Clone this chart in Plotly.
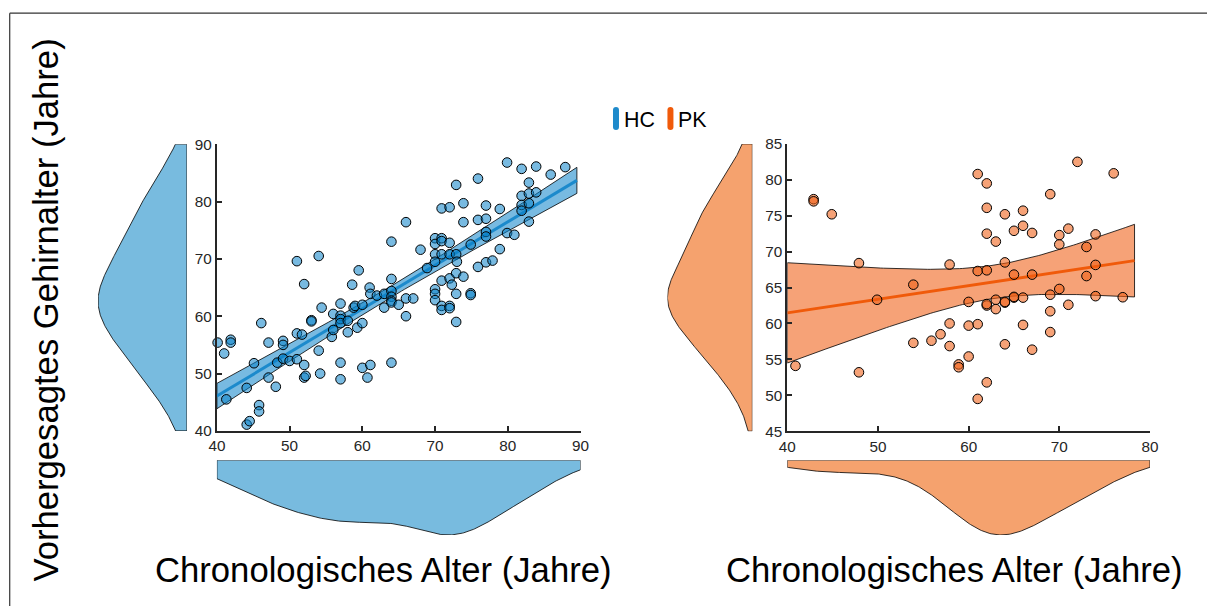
import numpy as np
import plotly.graph_objects as go

# The page is captured as a slightly larger area (body margin included) and scaled
# back to 1215x614; these factors map target-image pixels to figure pixels.
W, H = 1215, 614
OFF = 8
SX, SY = 1231 / 1215, 630 / 614
FS = (SX + SY) / 2

GROUPS = ["HC", "PK"]
X_TITLE = "Chronologisches Alter (Jahre)"
Y_TITLE = "Vorhergesagtes Gehirnalter (Jahre)"

HC_AGE = [51.0, 54.0, 52.0, 64.0, 64.0, 58.6, 59.5, 61.0, 79.9, 81.9, 83.9, 87.9, 85.9, 82.9, 72.9, 75.9,
          81.9, 82.9, 83.9, 81.9, 82.9, 81.9, 82.9, 70.9, 72.0, 73.9, 77.0, 78.9, 73.9, 75.9, 77.0, 77.0,
          77.0, 79.9, 80.9, 78.9, 74.9, 66.0, 68.0, 70.0, 70.0, 70.9, 70.9, 72.0, 70.0, 70.9, 72.0, 72.9,
          70.0, 73.0, 68.9, 75.9, 77.0, 77.9, 70.9, 72.0, 72.9, 73.9, 66.0, 67.0, 66.0, 70.0, 70.0, 70.0,
          70.9, 70.9, 72.0, 72.0, 72.9, 72.3, 72.9, 74.9, 74.9, 64.0, 40.1, 41.0, 41.9, 41.9, 41.3, 44.1,
          44.1, 44.5, 45.8, 45.8, 46.1, 47.1, 47.1, 45.1, 48.1, 48.3, 49.1, 49.1, 49.1, 50.0, 51.0, 51.0,
          51.7, 52.0, 52.0, 52.2, 53.0, 53.0, 54.0, 54.2, 54.4, 55.8, 56.0, 56.0, 57.0, 57.0, 57.0, 57.0,
          57.0, 57.0, 58.0, 58.0, 58.8, 59.0, 59.3, 60.0, 60.0, 60.0, 60.7, 61.1, 61.1, 62.0, 63.0, 63.0,
          64.0, 64.0, 64.0, 64.0, 65.0]
HC_PRED = [69.6, 70.5, 65.6, 73.0, 66.5, 65.5, 68.0, 65.0, 86.8, 85.7, 86.1, 86.0, 84.7, 83.3, 82.9, 84.0,
           81.0, 81.4, 81.6, 79.4, 79.7, 78.4, 76.5, 78.8, 79.0, 79.7, 79.3, 78.7, 76.4, 76.8, 77.0, 74.7,
           73.9, 74.5, 74.2, 71.7, 72.5, 76.4, 71.6, 73.6, 72.6, 73.6, 73.1, 72.8, 70.8, 70.8, 70.8, 70.8,
           69.5, 69.5, 68.4, 68.6, 69.4, 69.7, 66.2, 66.6, 67.5, 66.9, 63.1, 63.1, 60.0, 64.7, 63.9, 62.8,
           61.8, 61.1, 61.8, 61.4, 63.9, 65.5, 59.0, 64.0, 63.7, 51.9, 55.4, 53.5, 55.9, 55.4, 45.5, 47.5,
           41.1, 41.7, 44.5, 43.4, 58.8, 55.4, 49.3, 51.8, 47.7, 51.9, 55.7, 55.0, 52.6, 52.2, 52.5, 57.0,
           56.8, 51.5, 49.3, 49.6, 59.3, 59.1, 54.0, 50.0, 61.5, 56.4, 60.4, 57.6, 62.2, 60.1, 59.5, 58.8,
           51.9, 49.0, 59.2, 57.2, 61.5, 61.8, 58.0, 58.8, 62.0, 51.0, 49.3, 51.5, 63.9, 63.6, 63.9, 61.5,
           64.4, 63.4, 62.7, 62.4, 62.0]

PK_AGE = [42.9, 42.9, 44.9, 47.9, 53.9, 57.9, 49.9, 40.9, 47.9, 53.9, 55.9, 56.9, 57.9, 57.9, 58.9, 58.9,
          61.0, 62.0, 62.0, 64.0, 66.0, 66.0, 65.0, 67.0, 62.0, 63.0, 69.0, 72.0, 76.0, 71.0, 70.0, 70.0,
          74.0, 73.0, 74.0, 73.0, 64.0, 61.0, 62.0, 65.0, 67.0, 70.0, 60.0, 62.0, 62.0, 63.0, 63.0, 64.0,
          64.0, 65.0, 65.0, 66.0, 69.0, 71.0, 74.0, 77.0, 69.0, 69.0, 66.0, 60.0, 61.0, 64.0, 67.0, 60.0,
          62.0, 61.0]
PK_PRED = [77.3, 77.0, 75.2, 68.4, 65.4, 68.2, 63.3, 54.1, 53.2, 57.3, 57.6, 58.5, 60.0, 56.85, 54.3, 53.9,
           80.8, 79.5, 76.1, 75.2, 75.7, 73.6, 72.9, 72.6, 72.5, 71.4, 78.0, 82.5, 80.9, 73.2, 72.3, 71.0,
           72.4, 70.65, 68.15, 66.6, 68.5, 67.3, 67.4, 66.8, 66.8, 64.8, 63.0, 62.5, 62.7, 63.3, 62.0, 62.9,
           63.0, 63.6, 63.7, 63.6, 64.0, 62.6, 63.8, 63.65, 61.7, 58.8, 59.8, 59.7, 59.9, 57.1, 56.35, 55.4,
           51.8, 49.5]

HC_X_TICKS = [40, 50, 60, 70, 80, 90]
HC_Y_TICKS = [40, 50, 60, 70, 80, 90]
PK_X_TICKS = [40, 50, 60, 70, 80]
PK_Y_TICKS = [45, 50, 55, 60, 65, 70, 75, 80, 85]
HC_X_RANGE = [40, 90]
HC_Y_RANGE = [40, 90]
PK_X_RANGE = [40, 80]
PK_Y_RANGE = [45, 85]
HC_FIT_SPAN = [40, 89.5]
PK_FIT_SPAN = [40, 78.3]
T_CRIT = {"HC": 1.98, "PK": 2.4}
# kernel bandwidths (years) for the marginal densities: (predicted, chronological)
BANDWIDTH = {"HC": (5.5, 5.0), "PK": (4.3, 4.0)}

COL = {
    "HC": dict(marker="rgba(10,130,200,0.55)", band="rgba(10,130,200,0.55)", line="rgb(28,138,204)",
               dens="#78BBDF", legend="#1E8ACB"),
    "PK": dict(marker="rgba(240,95,20,0.58)", band="rgba(240,95,20,0.58)", line="#F05A0A",
               dens="#F5A26E", legend="#F05A0A"),
}
AX = "#262626"
FONT = "Liberation Sans, Arial, sans-serif"


def px(a):
    return (a * SX - OFF) / W


def py(b):
    return 1 - (b * SY - OFF) / H


def xd(a, b):
    return [px(a), px(b)]


def yd(top, bottom):
    return [py(bottom), py(top)]


def kde(data, grid, bw):
    d = np.asarray(data, float)
    n = d.size
    z = (grid[:, None] - d[None, :]) / bw
    return np.exp(-0.5 * z ** 2).sum(axis=1) / (n * bw * np.sqrt(2 * np.pi))


def fit_ci(x, y, span, t):
    x = np.asarray(x, float)
    y = np.asarray(y, float)
    n = x.size
    b1, b0 = np.polyfit(x, y, 1)
    xg = np.linspace(span[0], span[1], 120)
    yh = b0 + b1 * xg
    res = y - (b0 + b1 * x)
    s = np.sqrt((res ** 2).sum() / (n - 2))
    sxx = ((x - x.mean()) ** 2).sum()
    ci = t * s * np.sqrt(1.0 / n + (xg - x.mean()) ** 2 / sxx)
    return xg, yh, yh - ci, yh + ci


fig = go.Figure()

panels = [
    ("HC", HC_AGE, HC_PRED, HC_X_RANGE, HC_Y_RANGE, HC_FIT_SPAN, "x", "y", "x3", "y3", "x4", "y4"),
    ("PK", PK_AGE, PK_PRED, PK_X_RANGE, PK_Y_RANGE, PK_FIT_SPAN, "x2", "y2", "x5", "y5", "x6", "y6"),
]
dens_max = {}
for g, xs, ys, xr, yr, span, xa, ya, xv, yv, xh, yh_ in panels:
    c = COL[g]
    xg, yfit, lo, hi = fit_ci(xs, ys, span, T_CRIT[g])
    fig.add_trace(go.Scatter(x=np.concatenate([xg, xg[::-1], xg[:1]]),
                             y=np.concatenate([hi, lo[::-1], hi[:1]]),
                             mode="lines", fill="toself", fillcolor=c["band"],
                             line=dict(color="black", width=0.8), xaxis=xa, yaxis=ya,
                             hoverinfo="skip", showlegend=False))
    fig.add_trace(go.Scatter(x=xg, y=yfit, mode="lines", line=dict(color=c["line"], width=3),
                             xaxis=xa, yaxis=ya, showlegend=False))
    fig.add_trace(go.Scatter(x=xs, y=ys, mode="markers", name=g, cliponaxis=False,
                             marker=dict(size=9.6, color=c["marker"], line=dict(color="black", width=1)),
                             xaxis=xa, yaxis=ya, showlegend=False))
    # vertical density (predicted age)
    gy = np.linspace(yr[0], yr[1], 300)
    dy = kde(ys, gy, BANDWIDTH[g][0])
    fig.add_trace(go.Scatter(x=np.concatenate([[0], dy, [0], [0]]),
                             y=np.concatenate([[yr[0]], gy, [yr[1]], [yr[0]]]),
                             mode="lines", fill="toself", fillcolor=c["dens"],
                             line=dict(color="black", width=0.8), xaxis=xv, yaxis=yv,
                             hoverinfo="skip", showlegend=False))
    # horizontal density (chronological age)
    gx = np.linspace(xr[0], xr[1], 300)
    dx = kde(xs, gx, BANDWIDTH[g][1])
    fig.add_trace(go.Scatter(x=np.concatenate([[xr[0]], gx, [xr[1]], [xr[0]]]),
                             y=np.concatenate([[0], dx, [0], [0]]),
                             mode="lines", fill="toself", fillcolor=c["dens"],
                             line=dict(color="black", width=0.8), xaxis=xh, yaxis=yh_,
                             hoverinfo="skip", showlegend=False))
    dens_max[g] = (dy.max(), dx.max())


def scatter_axis(dom, rng, ticks):
    return dict(domain=dom, range=rng, tickvals=ticks, ticks="inside", ticklen=5, tickwidth=2,
                tickcolor=AX, showline=True, linecolor=AX, linewidth=2, showgrid=False,
                zeroline=False, tickfont=dict(family=FONT, size=15 * FS, color=AX), fixedrange=True)


def hidden(dom, rng):
    return dict(domain=dom, range=rng, visible=False, showgrid=False, zeroline=False, fixedrange=True)


layout = dict(
    width=W, height=H, margin=dict(l=0, r=0, t=0, b=0),
    paper_bgcolor="white", plot_bgcolor="rgba(0,0,0,0)", showlegend=False,
    xaxis=dict(**scatter_axis(xd(216, 580), HC_X_RANGE, HC_X_TICKS), anchor="y"),
    yaxis=dict(**scatter_axis(yd(143.3, 430.7), HC_Y_RANGE, HC_Y_TICKS), anchor="x"),
    xaxis2=dict(**scatter_axis(xd(787, 1150), PK_X_RANGE, PK_X_TICKS), anchor="y2"),
    yaxis2=dict(**scatter_axis(yd(143, 431), PK_Y_RANGE, PK_Y_TICKS), anchor="x2"),
    xaxis3=dict(**hidden(xd(97, 186), [dens_max["HC"][0], 0]), anchor="y3"),
    yaxis3=dict(**hidden(yd(143.3, 430.7), HC_Y_RANGE), anchor="x3"),
    xaxis4=dict(**hidden(xd(216, 580), HC_X_RANGE), anchor="y4"),
    yaxis4=dict(**hidden(yd(460, 535), [dens_max["HC"][1], 0]), anchor="x4"),
    xaxis5=dict(**hidden(xd(667, 752), [dens_max["PK"][0], 0]), anchor="y5"),
    yaxis5=dict(**hidden(yd(143, 431), PK_Y_RANGE), anchor="x5"),
    xaxis6=dict(**hidden(xd(787, 1150), PK_X_RANGE), anchor="y6"),
    yaxis6=dict(**hidden(yd(460, 535), [dens_max["PK"][1], 0]), anchor="x6"),
)
fig.update_layout(**layout)

annotations = [
    dict(text=Y_TITLE, x=px(45), y=py(310), textangle=-90),
    dict(text=X_TITLE, x=px(383), y=py(570)),
    dict(text=X_TITLE, x=px(954), y=py(570)),
]
for a in annotations:
    a.update(xref="paper", yref="paper", xanchor="center", yanchor="middle", showarrow=False,
             font=dict(family=FONT, size=34 * FS, color="black"))

shapes = []
legend_pos = {"HC": 615.5, "PK": 670}
for g in GROUPS:
    cx = legend_pos[g]
    top, bot, hw = 106, 129, 3.0
    x0, x1, xc = px(cx - hw), px(cx + hw), px(cx)
    yt, yb = py(top), py(bot)
    r = hw * SY / H
    path = (f"M {x0},{yt - r} Q {x0},{yt} {xc},{yt} Q {x1},{yt} {x1},{yt - r} "
            f"L {x1},{yb + r} Q {x1},{yb} {xc},{yb} Q {x0},{yb} {x0},{yb + r} Z")
    shapes.append(dict(type="path", path=path, xref="paper", yref="paper",
                       fillcolor=COL[g]["legend"], line=dict(width=0)))
    annotations.append(dict(text=g, x=px(cx + 6), y=py(119), xref="paper", yref="paper",
                            xanchor="left", yanchor="middle", showarrow=False,
                            font=dict(family=FONT, size=21 * FS, color="black")))

# figure frame (top and left edges)
fx = max(px(7), 0.0006)
shapes.append(dict(type="line", xref="paper", yref="paper", x0=fx, x1=1, y0=py(12), y1=py(12),
                   line=dict(color="#333333", width=1.2)))
shapes.append(dict(type="line", xref="paper", yref="paper", x0=fx, x1=fx, y0=0, y1=py(12),
                   line=dict(color="#333333", width=1.2)))

fig.update_layout(annotations=annotations, shapes=shapes)
fig.write_html("out.html")
